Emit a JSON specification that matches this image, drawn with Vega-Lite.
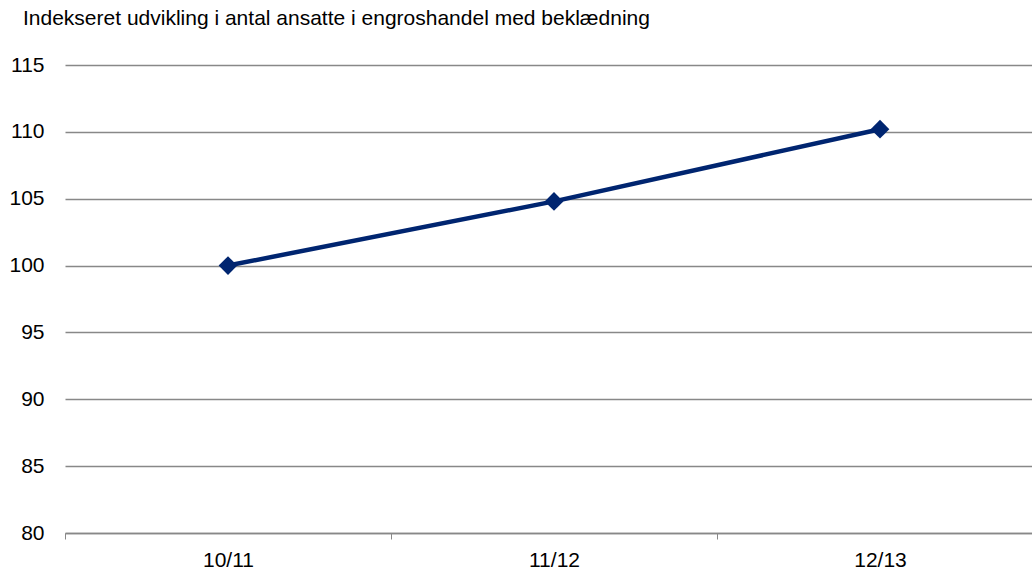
{
  "$schema": "https://vega.github.io/schema/vega-lite/v6.json",
  "autosize": "none",
  "padding": {"left": 65, "top": 65, "right": 0, "bottom": 40},
  "width": 967,
  "height": 468,
  "background": "white",
  "title": {
    "text": "Indekseret udvikling i antal ansatte i engroshandel med beklædning",
    "anchor": "start",
    "frame": "group",
    "dx": -42,
    "offset": 8,
    "baseline": "alphabetic",
    "font": "Liberation Sans",
    "fontSize": 21,
    "fontWeight": "normal",
    "color": "#000000"
  },
  "data": {
    "values": [
      {"period": "10/11", "index": 100},
      {"period": "11/12", "index": 104.8},
      {"period": "12/13", "index": 110.2}
    ]
  },
  "config": {
    "view": {"stroke": null},
    "axis": {"labelFont": "Liberation Sans", "labelColor": "#000000"}
  },
  "encoding": {
    "x": {
      "field": "period",
      "type": "ordinal",
      "sort": null,
      "scale": {"type": "band", "paddingInner": 0, "paddingOuter": 0, "range": [0, 978]},
      "axis": {
        "title": null,
        "labelAngle": 0,
        "labelFontSize": 21,
        "labelPadding": 10,
        "tickBand": "extent",
        "tickSize": 6,
        "tickColor": "#888888",
        "domainColor": "#888888",
        "domainWidth": 1.3,
        "grid": false,
        "zindex": 1
      }
    },
    "y": {
      "field": "index",
      "type": "quantitative",
      "scale": {"domain": [80, 115], "nice": false, "zero": false},
      "axis": {
        "title": null,
        "values": [80, 85, 90, 95, 100, 105, 110, 115],
        "labelFontSize": 21,
        "labelPadding": 21,
        "ticks": false,
        "tickSize": 0,
        "domain": false,
        "grid": true,
        "gridColor": "#888888",
        "gridWidth": 1.3
      }
    }
  },
  "layer": [
    {"mark": {"type": "line", "color": "#002570", "strokeWidth": 4.5}},
    {"mark": {"type": "point", "shape": "diamond", "filled": true, "color": "#002570", "opacity": 1, "size": 350}}
  ]
}
